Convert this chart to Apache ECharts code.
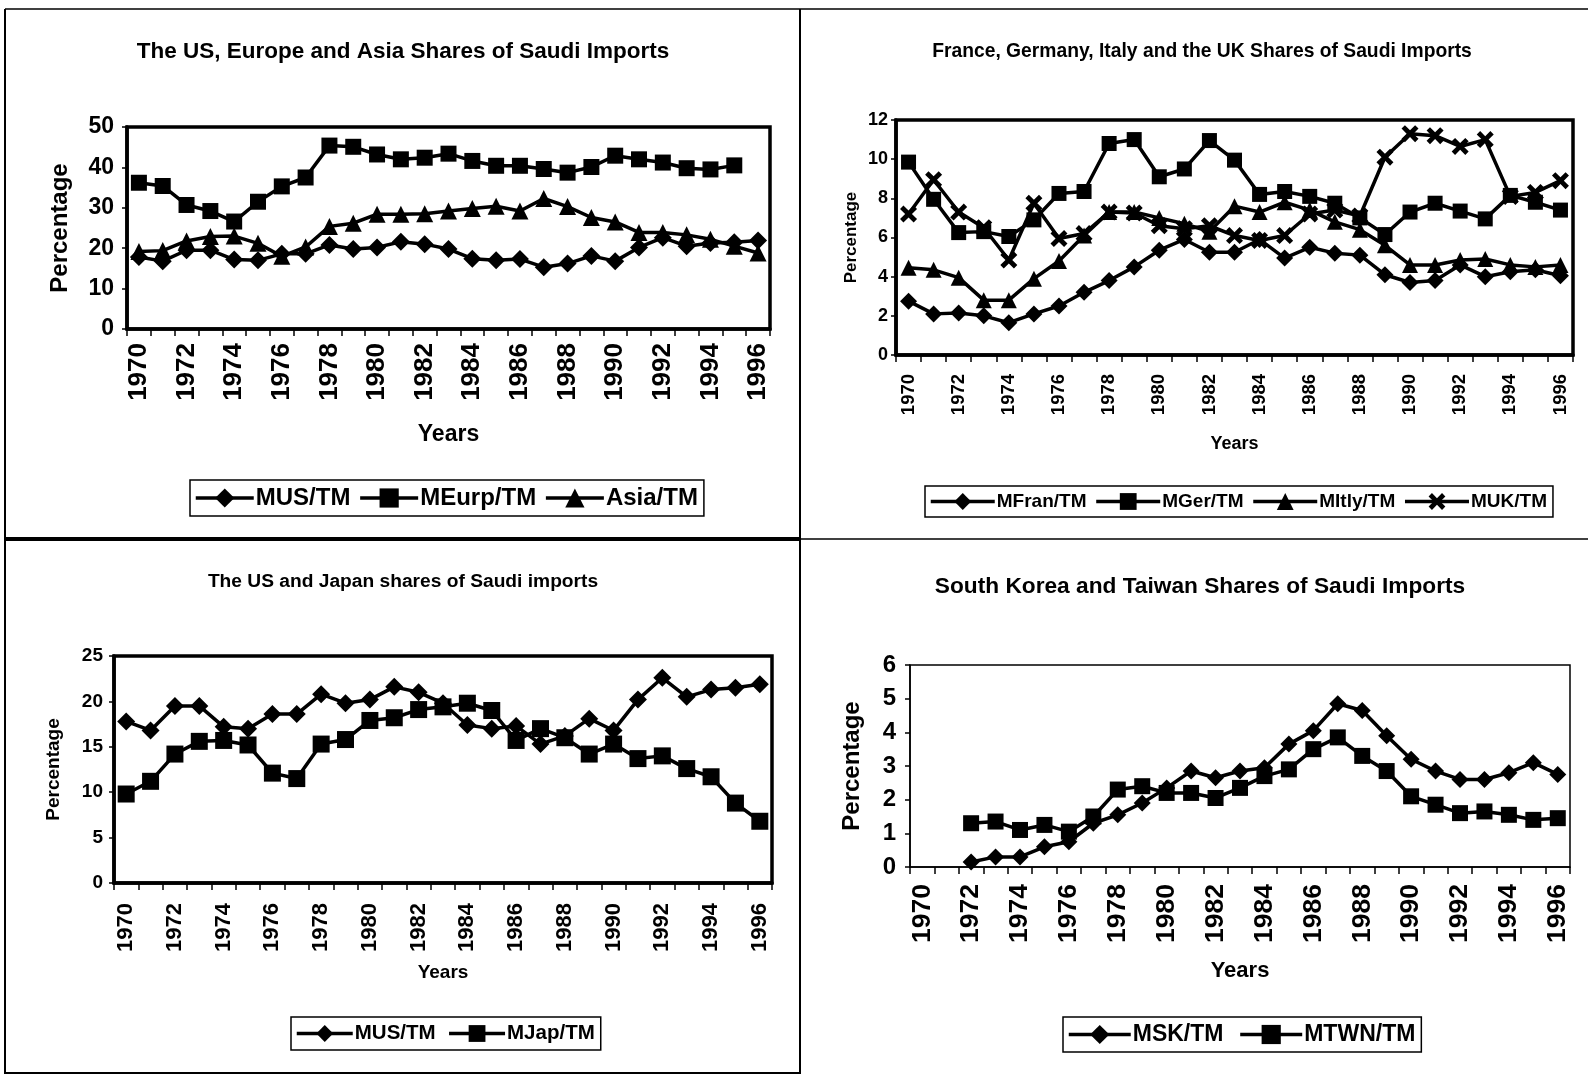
<!DOCTYPE html>
<html><head><meta charset="utf-8">
<script src="https://cdn.jsdelivr.net/npm/echarts@6/dist/echarts.min.js"></script>
<style>html,body{margin:0;padding:0;background:#fff}#c{width:1588px;height:1077px}</style>
</head><body><div id="c"></div>
<script>
// ---------- data ----------
const years = ['1970','1971','1972','1973','1974','1975','1976','1977','1978','1979','1980','1981','1982',
  '1983','1984','1985','1986','1987','1988','1989','1990','1991','1992','1993','1994','1995','1996'];

// Panel 1: The US, Europe and Asia shares
const musTM  = [17.8,16.8,19.5,19.5,17.2,17.0,18.6,18.6,20.8,19.8,20.2,21.6,21.0,19.8,17.4,17.0,17.3,15.3,16.2,18.1,16.8,20.2,22.6,20.5,21.3,21.5,21.9];
const meurpTM = [36.2,35.4,30.7,29.2,26.6,31.5,35.3,37.5,45.4,45.1,43.2,42.0,42.4,43.4,41.6,40.4,40.4,39.6,38.7,40.1,42.9,42.0,41.2,39.8,39.5,40.5,null];
const asiaTM = [19.2,19.4,21.8,22.9,23.0,21.2,18.0,20.3,25.4,26.2,28.4,28.4,28.5,29.2,29.8,30.4,29.2,32.3,30.3,27.6,26.5,23.9,23.9,23.3,22.2,20.5,18.8];

// Panel 2: France, Germany, Italy, UK shares
const mfranTM = [2.75,2.1,2.15,2.0,1.65,2.1,2.5,3.2,3.8,4.5,5.35,5.9,5.25,5.25,5.9,4.95,5.5,5.2,5.1,4.1,3.7,3.8,4.6,4.0,4.25,4.35,4.05];
const mgerTM  = [9.85,7.95,6.25,6.3,6.05,6.9,8.25,8.35,10.8,11.0,9.1,9.5,10.95,9.95,8.2,8.35,8.1,7.75,7.0,6.15,7.3,7.75,7.35,6.95,8.15,7.8,7.4];
const mitlyTM = [4.45,4.35,3.95,2.8,2.8,3.9,4.8,6.1,7.3,7.3,7.0,6.7,6.3,7.6,7.3,7.8,7.4,6.8,6.4,5.6,4.6,4.6,4.85,4.9,4.6,4.5,4.6];
const mukTM   = [7.2,8.95,7.3,6.5,4.85,7.75,5.95,6.2,7.3,7.25,6.6,6.45,6.6,6.1,5.85,6.1,7.2,7.4,7.1,10.1,11.3,11.2,10.65,11.0,8.1,8.3,8.9];

// Panel 3: The US and Japan shares
const mjapTM = [9.8,11.2,14.2,15.6,15.7,15.2,12.1,11.5,15.3,15.8,17.9,18.2,19.1,19.4,19.8,19.0,15.7,17.0,16.0,14.2,15.3,13.7,14.0,12.6,11.7,8.8,6.8];

// Panel 4: South Korea and Taiwan shares
const mskTM  = [null,null,0.15,0.3,0.3,0.6,0.75,1.3,1.55,1.9,2.35,2.85,2.65,2.85,2.95,3.65,4.05,4.85,4.65,3.9,3.2,2.85,2.6,2.6,2.8,3.1,2.75];
const mtwnTM = [null,null,1.3,1.35,1.1,1.25,1.05,1.5,2.3,2.4,2.2,2.2,2.05,2.35,2.7,2.9,3.5,3.85,3.3,2.85,2.1,1.85,1.6,1.65,1.55,1.4,1.45];

const titles = [
  'The US, Europe and Asia Shares of Saudi Imports',
  'France, Germany, Italy and the UK Shares of Saudi Imports',
  'The US and Japan shares of Saudi imports',
  'South Korea and Taiwan Shares of Saudi Imports'
];

// ---------- styling ----------
const FONT = '"Liberation Sans", Arial, sans-serif';
const XMARK = 'path://M0,2 L2,0 L5,3 L8,0 L10,2 L7,5 L10,8 L8,10 L5,7 L2,10 L0,8 L3,5 Z';

const grids = [
  {left:127, top:127, width:643, height:202, borderWidth:3.5, tick:23, tickMargin:13, xl:26, yName:24, xName:23, yGap:55, xGap:94, xMargin:14},
  {left:896, top:120, width:677, height:235, borderWidth:3.5, tick:18, tickMargin:8, xl:18.5, yName:17, xName:18, yGap:36, xGap:80, xMargin:19},
  {left:114, top:656, width:658, height:227, borderWidth:3.5, tick:19, tickMargin:11, xl:22, yName:19, xName:19, yGap:51, xGap:80, xMargin:20},
  {left:910, top:665, width:660, height:202, borderWidth:1.5, tick:24, tickMargin:14, xl:26.5, yName:24, xName:22, yGap:46, xGap:93, xMargin:17}
];
const yRanges = [[0,50,10],[0,12,2],[0,25,5],[0,6,1]];

function legendCfg(data, left, top, fontSize, itemWidth, itemHeight, itemGap){
  return {data:data, left:left, top:top, orient:'horizontal',
    padding:[6,6,6,4], itemGap:itemGap, itemWidth:itemWidth, itemHeight:itemHeight,
    lineStyle:{width:3.5, color:'#000'},
    borderColor:'#000', borderWidth:1.5,
    textStyle:{fontFamily:FONT,fontSize:fontSize,fontWeight:'bold',color:'#000',padding:[0,0,0,-3]}};
}

const option = {
  backgroundColor:'#fff',
  animation:false,
  textStyle:{fontFamily:FONT, color:'#000'},
  title: [
    {text:titles[0], left:403, top:40, textAlign:'center', padding:0, textStyle:{fontFamily:FONT,fontSize:22.5,fontWeight:'bold',color:'#000'}},
    {text:titles[1], left:1202, top:42, textAlign:'center', padding:0, textStyle:{fontFamily:FONT,fontSize:19.3,fontWeight:'bold',color:'#000'}},
    {text:titles[2], left:403, top:572, textAlign:'center', padding:0, textStyle:{fontFamily:FONT,fontSize:19.2,fontWeight:'bold',color:'#000'}},
    {text:titles[3], left:1200, top:575, textAlign:'center', padding:0, textStyle:{fontFamily:FONT,fontSize:22.7,fontWeight:'bold',color:'#000'}}
  ],
  grid: grids.map(g => ({left:g.left, top:g.top, width:g.width, height:g.height, show:true,
    borderColor:'#000', borderWidth:g.borderWidth, backgroundColor:'#fff', containLabel:false})),
  xAxis: grids.map((g,i) => ({
    type:'category', gridIndex:i, data:years, boundaryGap:true,
    name:'Years', nameLocation:'middle', nameGap:g.xGap,
    nameTextStyle:{fontFamily:FONT, fontSize:g.xName, fontWeight:'bold', color:'#000'},
    axisLine:{show:true, lineStyle:{color:'#000', width:g.borderWidth}},
    axisTick:{show:true, interval:0, length:7, lineStyle:{color:'#000', width:1.5}},
    axisLabel:{interval:1, rotate:90, margin:g.xMargin, fontFamily:FONT, fontSize:g.xl, fontWeight:'bold', color:'#000'},
    splitLine:{show:false}
  })),
  yAxis: grids.map((g,i) => ({
    type:'value', gridIndex:i, min:yRanges[i][0], max:yRanges[i][1], interval:yRanges[i][2],
    name:'Percentage', nameLocation:'middle', nameGap:g.yGap, nameRotate:90,
    nameTextStyle:{fontFamily:FONT, fontSize:g.yName, fontWeight:'bold', color:'#000'},
    axisLine:{show:true, lineStyle:{color:'#000', width:g.borderWidth}},
    axisTick:{show:true, length:5, lineStyle:{color:'#000', width:1.5}},
    axisLabel:{margin:g.tickMargin, fontFamily:FONT, fontSize:g.tick, fontWeight:'bold', color:'#000'},
    splitLine:{show:false}
  })),
  legend: [
    legendCfg(['MUS/TM','MEurp/TM','Asia/TM'], 190, 480, 24, 58, 24, 8),
    legendCfg(['MFran/TM','MGer/TM','MItly/TM','MUK/TM'], 925, 486, 19, 64, 21, 8),
    legendCfg(['MUS/TM ','MJap/TM'], 291, 1017, 20.5, 56, 21, 6),
    legendCfg(['MSK/TM','MTWN/TM'], 1063, 1017, 23, 62, 24, 15)
  ],
  series: [
    mk('MUS/TM', 0, musTM, 'diamond', 18),
    mk('MEurp/TM', 0, meurpTM, 'rect', 16),
    mk('Asia/TM', 0, asiaTM, 'triangle', 17),
    mk('MFran/TM', 1, mfranTM, 'diamond', 17),
    mk('MGer/TM', 1, mgerTM, 'rect', 15),
    mk('MItly/TM', 1, mitlyTM, 'triangle', 16),
    mk('MUK/TM', 1, mukTM, XMARK, 17),
    mk('MUS/TM ', 2, musTM, 'diamond', 18),
    mk('MJap/TM', 2, mjapTM, 'rect', 17),
    mk('MSK/TM', 3, mskTM, 'diamond', 17),
    mk('MTWN/TM', 3, mtwnTM, 'rect', 16)
  ],
  graphic: [
    ln(5,9,1588,9,1.5), ln(5,9,5,1074,2), ln(800,9,800,1074,2),
    ln(5,539,800,539,4), ln(800,539,1588,539,1.5), ln(5,1073,800,1073,2)
  ]
};

function mk(name, idx, data, symbol, size){
  return {name:name, type:'line', xAxisIndex:idx, yAxisIndex:idx, data:data,
    symbol:symbol, symbolSize:size, showAllSymbol:true, connectNulls:false,
    lineStyle:{color:'#000', width:3.5}, itemStyle:{color:'#000', borderWidth:0},
    emphasis:{disabled:true}, z:3};
}
function ln(x1,y1,x2,y2,w){
  return {type:'line', shape:{x1:x1,y1:y1,x2:x2,y2:y2}, style:{stroke:'#000', lineWidth:w}, silent:true};
}

const chart = echarts.init(document.getElementById('c'), null, {renderer:'canvas'});
chart.setOption(option);
</script>
</body></html>
